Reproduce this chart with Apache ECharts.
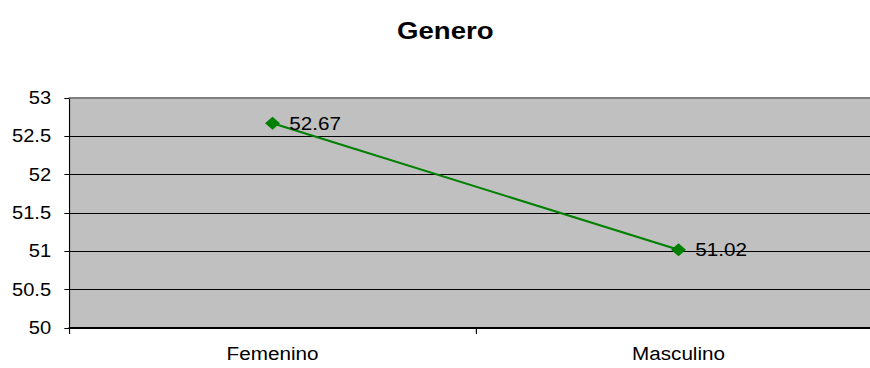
<!DOCTYPE html>
<html>
<head>
<meta charset="utf-8">
<script src="https://cdn.jsdelivr.net/npm/echarts@6/dist/echarts.min.js"></script>
<style>
  html, body { margin: 0; padding: 0; background: #fff; overflow: hidden; width: 870px; height: 368px; }
  /* The chart is laid out on a narrower canvas and widened, giving the broad, spaced-out lettering;
     the plot runs past the right edge of the page, which clips it. */
  #chart { width: 790px; height: 368px; transform: scaleX(1.1493); transform-origin: 0 0; }
</style>
</head>
<body>
<div id="chart"></div>
<script>
// Average score by gender
const categories = ['Femenino', 'Masculino'];
const values = [52.67, 51.02];
const yMin = 50, yMax = 53, yStep = 0.5;

const FONT = 'Liberation Sans, Arial, sans-serif';

const chart = echarts.init(document.getElementById('chart'), null, { renderer: 'svg' });
chart.setOption({
  animation: false,
  backgroundColor: '#ffffff',
  title: {
    text: 'Genero',
    left: 382.5,
    top: 14,
    textAlign: 'center',
    textStyle: { fontFamily: FONT, fontSize: 24, fontWeight: 'bold', color: '#000' }
  },
  grid: {
    left: 60.5, width: 706.5, top: 98, bottom: 40,
    outerBoundsMode: 'none',
    containLabel: false,
    show: true, backgroundColor: '#c0c0c0', borderWidth: 0
  },
  xAxis: [{
    type: 'category',
    data: categories,
    boundaryGap: true,
    axisLine: { lineStyle: { color: '#000', width: 2 } },
    axisTick: { show: true, length: 6, lineStyle: { color: '#000' } },
    axisLabel: { margin: 16, fontFamily: FONT, fontSize: 18, color: '#000' },
    splitLine: { show: false }
  }, {
    // gray frame line along the top of the plot
    type: 'category',
    position: 'top',
    data: categories,
    axisLine: { lineStyle: { color: '#808080', width: 2 } },
    axisTick: { show: false },
    axisLabel: { show: false },
    splitLine: { show: false }
  }],
  yAxis: {
    type: 'value',
    min: yMin, max: yMax, interval: yStep,
    axisLine: { show: true, lineStyle: { color: '#000', width: 1 } },
    axisTick: { show: true, length: 4.5, lineStyle: { color: '#000' } },
    axisLabel: { margin: 16, fontFamily: FONT, fontSize: 17.5, color: '#000' },
    splitLine: { show: true, showMaxLine: false, showMinLine: false, lineStyle: { color: '#000', width: 1 } }
  },
  series: [{
    type: 'line',
    data: values,
    symbol: 'diamond',
    symbolSize: 13,
    itemStyle: { color: '#008000' },
    lineStyle: { color: '#008000', width: 2 },
    label: {
      show: true,
      position: 'right',
      distance: 8,
      formatter: p => p.value.toFixed(2),
      fontFamily: FONT,
      fontSize: 18,
      color: '#000'
    }
  }]
});
</script>
</body>
</html>
